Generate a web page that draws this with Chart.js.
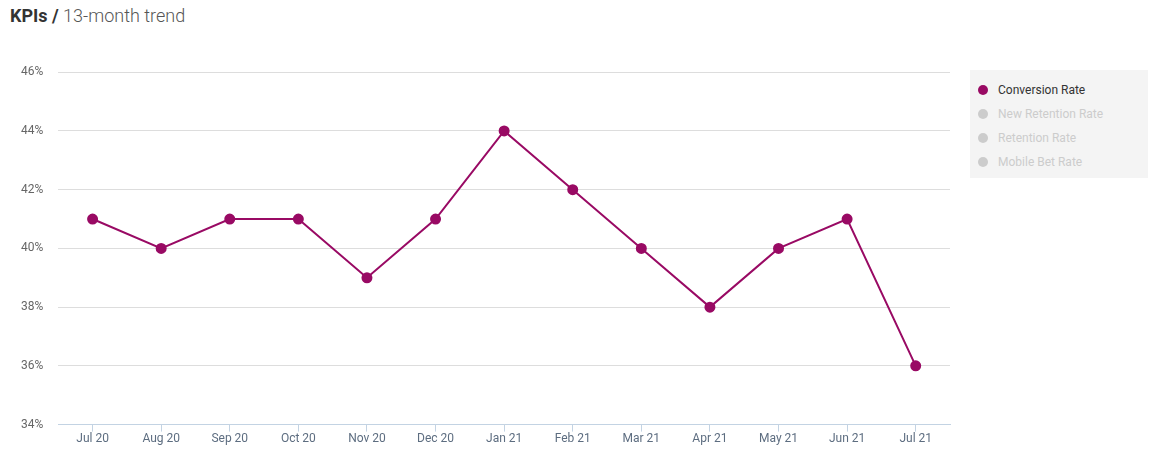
<!DOCTYPE html>
<html>
<head>
<meta charset="utf-8">
<script src="https://cdn.jsdelivr.net/npm/chart.js@4"></script>
<style>
  body { margin: 0; background: #fff; font-family: Roboto, "Open Sans", sans-serif; }
  #title { position: absolute; left: 10px; top: 5px; font-size: 18px; color: #555; font-weight: 300; }
  #title b { color: #333; font-weight: 700; }
  #wrap { position: absolute; left: 0; top: 50px; width: 960px; height: 397px; }
  #legend { position: absolute; left: 970px; top: 70px; width: 178px; height: 108px;
            background: #f4f4f4; box-sizing: border-box; padding: 13px 0 0 8px; }
  .item { font-size: 12px; height: 24px; line-height: 14px; color: #ccc; white-space: nowrap; }
  .item span.dot { display: inline-block; width: 10px; height: 10px; border-radius: 50%;
            background: #ccc; vertical-align: -1px; margin-right: 10px; }
  .item.on { color: #333; }
  .item.on span.dot { background: #990a64; }
</style>
</head>
<body>
<div id="title"><b>KPIs /</b> 13-month trend</div>
<div id="wrap"><canvas id="chart"></canvas></div>
<div id="legend"></div>
<script>
  // 資料
  const months = ['Jul 20', 'Aug 20', 'Sep 20', 'Oct 20', 'Nov 20', 'Dec 20', 'Jan 21',
                  'Feb 21', 'Mar 21', 'Apr 21', 'May 21', 'Jun 21', 'Jul 21'];
  const conversionRate = [41, 40, 41, 41, 39, 41, 44, 42, 40, 38, 40, 41, 36];
  const seriesNames = ['Conversion Rate', 'New Retention Rate', 'Retention Rate', 'Mobile Bet Rate'];
  const activeSeries = [true, false, false, false];

  const COLOR = '#990a64';

  // 圖例
  const legendEl = document.getElementById('legend');
  seriesNames.forEach((name, i) => {
    const div = document.createElement('div');
    div.className = 'item' + (activeSeries[i] ? ' on' : '');
    div.innerHTML = '<span class="dot"></span>' + name;
    legendEl.appendChild(div);
  });

  new Chart(document.getElementById('chart'), {
    type: 'line',
    data: {
      labels: months,
      datasets: [{
        label: seriesNames[0],
        data: conversionRate,
        borderColor: COLOR,
        backgroundColor: COLOR,
        borderWidth: 2,
        pointRadius: 4.5,
        pointHoverRadius: 4.5,
        tension: 0
      }]
    },
    options: {
      responsive: true,
      maintainAspectRatio: false,
      animation: false,
      layout: { padding: { top: 4, right: 10, left: 6, bottom: 1 } },
      plugins: { legend: { display: false }, tooltip: { enabled: false } },
      scales: {
        x: {
          offset: true,
          grid: { display: true, drawOnChartArea: false, drawTicks: true, tickLength: 7, color: '#c3d3e3' },
          border: { color: '#c3d3e3' },
          ticks: { color: '#5d6d80', font: { family: 'Roboto', size: 12 }, padding: 0 }
        },
        y: {
          min: 34,
          max: 46,
          grid: { color: '#dddddd', drawTicks: false },
          border: { display: false },
          ticks: {
            stepSize: 2,
            padding: 15,
            color: '#666',
            font: { family: 'Roboto', size: 12 },
            callback: v => v + '%'
          }
        }
      }
    }
  });
</script>
</body>
</html>
